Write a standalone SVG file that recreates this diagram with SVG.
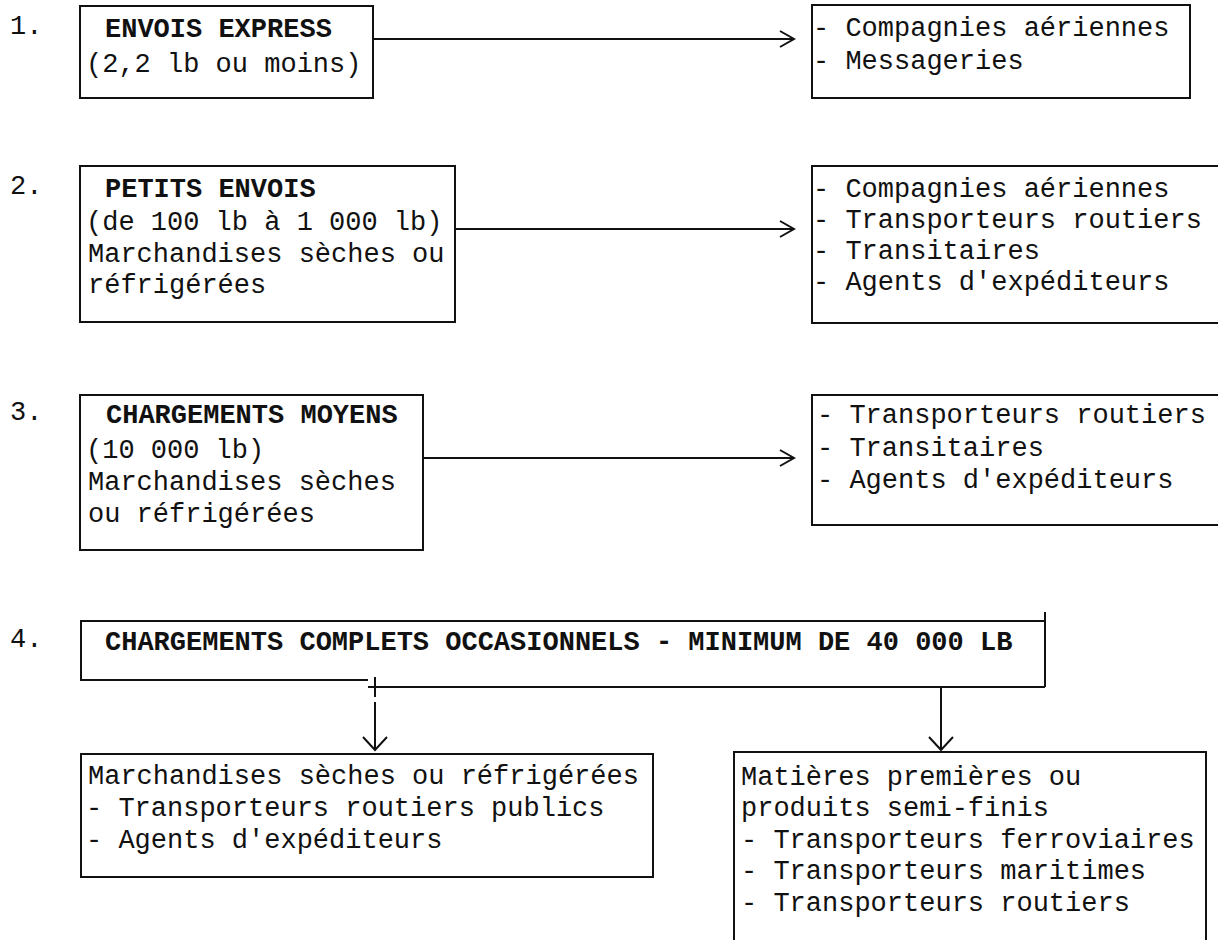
<svg xmlns="http://www.w3.org/2000/svg" width="1218" height="940" viewBox="0 0 1218 940">
<style>
.bg{fill:#ffffff}
.box{fill:none;stroke:#111;stroke-width:2}
.t{font-family:"Liberation Mono","DejaVu Sans Mono",monospace;font-size:27px;fill:#111}
.b{font-weight:bold}
.con{fill:none;stroke:#111;stroke-width:2}
</style>
<defs>
<marker id="arrH" markerUnits="userSpaceOnUse" markerWidth="18" markerHeight="20" viewBox="0 0 18 20" refX="16" refY="10" orient="auto">
<path d="M2,2 L16,10 L2,18" fill="none" stroke="#111" stroke-width="2"/>
</marker>
<marker id="arrV" markerUnits="userSpaceOnUse" markerWidth="16" markerHeight="28" viewBox="0 0 16 28" refX="14" refY="14" orient="auto">
<path d="M1,2 L14,14 L1,26" fill="none" stroke="#111" stroke-width="2"/>
</marker>
</defs>
<rect class="bg" x="0" y="0" width="1218" height="940"/>

<g id="labels">
<text class="t" x="10" y="34">1.</text>
<text class="t" x="10" y="194">2.</text>
<text class="t" x="10" y="420">3.</text>
<text class="t" x="10" y="647">4.</text>
</g>

<g id="n1">
<rect class="box" x="80" y="6" width="293" height="92"/>
<text class="t b" x="105" y="37">ENVOIS EXPRESS</text>
<text class="t" x="86" y="72">(2,2 lb ou moins)</text>
</g>
<g id="r1">
<rect class="box" x="812" y="5" width="378" height="93"/>
<text class="t" x="813" y="36">- Compagnies aériennes</text>
<text class="t" x="813" y="69">- Messageries</text>
</g>

<g id="n2">
<rect class="box" x="80" y="166" width="375" height="156"/>
<text class="t b" x="105" y="197">PETITS ENVOIS</text>
<text class="t" x="86" y="230">(de 100 lb à 1 000 lb)</text>
<text class="t" x="88" y="262">Marchandises sèches ou</text>
<text class="t" x="88" y="293">réfrigérées</text>
</g>
<g id="r2">
<path class="box" d="M1230,166 H812 V323 H1230"/>
<text class="t" x="813" y="197">- Compagnies aériennes</text>
<text class="t" x="813" y="228">- Transporteurs routiers</text>
<text class="t" x="813" y="259">- Transitaires</text>
<text class="t" x="813" y="290">- Agents d'expéditeurs</text>
</g>

<g id="n3">
<rect class="box" x="80" y="395" width="343" height="155"/>
<text class="t b" x="106" y="423">CHARGEMENTS MOYENS</text>
<text class="t" x="86" y="458">(10 000 lb)</text>
<text class="t" x="88" y="490">Marchandises sèches</text>
<text class="t" x="88" y="522">ou réfrigérées</text>
</g>
<g id="r3">
<path class="box" d="M1230,395 H812 V525 H1230"/>
<text class="t" x="817" y="423">- Transporteurs routiers</text>
<text class="t" x="817" y="456">- Transitaires</text>
<text class="t" x="817" y="488">- Agents d'expéditeurs</text>
</g>

<g id="n4">
<path class="box" d="M80,621 H1045 M1045,612 V687 M81,621 V680 M80,680 H368 M368,687 H1045"/>
<text class="t b" x="105" y="650">CHARGEMENTS COMPLETS OCCASIONNELS - MINIMUM DE 40 000 LB</text>
</g>

<g id="n5">
<rect class="box" x="81" y="754" width="572" height="123"/>
<text class="t" x="88" y="784">Marchandises sèches ou réfrigérées</text>
<text class="t" x="86" y="816">- Transporteurs routiers publics</text>
<text class="t" x="86" y="848">- Agents d'expéditeurs</text>
</g>

<g id="n6">
<path class="box" d="M734,950 V752 H1206 V950"/>
<text class="t" x="741" y="785">Matières premières ou</text>
<text class="t" x="741" y="816">produits semi-finis</text>
<text class="t" x="741" y="848">- Transporteurs ferroviaires</text>
<text class="t" x="741" y="879">- Transporteurs maritimes</text>
<text class="t" x="741" y="911">- Transporteurs routiers</text>
</g>

<g id="connectors">
<line class="con" x1="373" y1="39" x2="794" y2="39" marker-end="url(#arrH)"/>
<line class="con" x1="455" y1="229" x2="794" y2="229" marker-end="url(#arrH)"/>
<line class="con" x1="423" y1="458" x2="794" y2="458" marker-end="url(#arrH)"/>
<line class="con" x1="375" y1="677" x2="375" y2="697"/>
<line class="con" x1="375" y1="702" x2="375" y2="750" marker-end="url(#arrV)"/>
<line class="con" x1="941" y1="687" x2="941" y2="750" marker-end="url(#arrV)"/>
</g>
</svg>
